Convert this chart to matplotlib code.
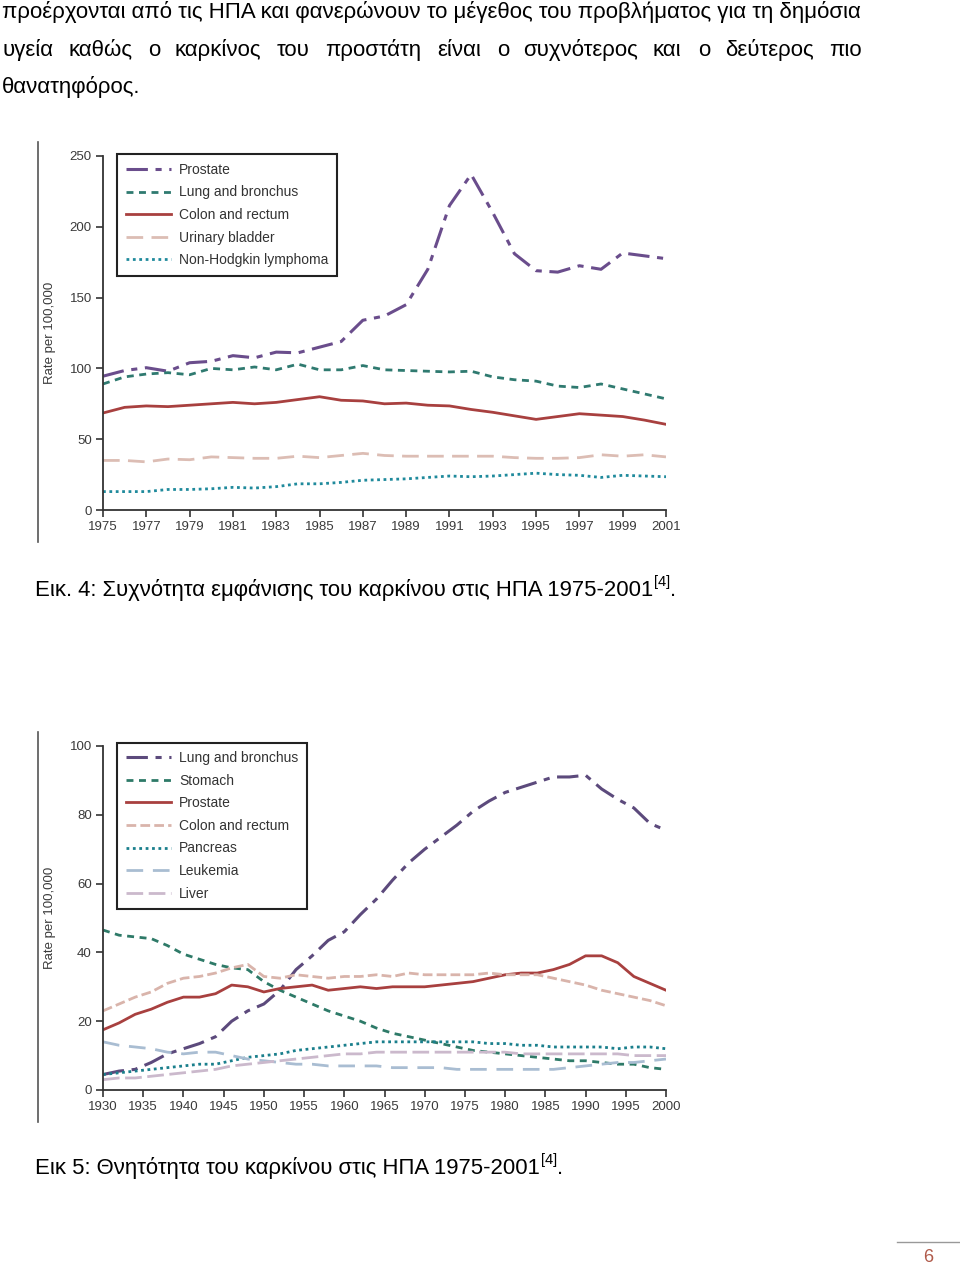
import numpy as np
import matplotlib.pyplot as plt

plt.rcParams['font.family'] = ['Liberation Sans', 'DejaVu Sans']

# --- chart 1: incidence 1975-2001
years1 = np.arange(1975, 2002)
prostate1 = [94.5, 98.5, 100.5, 98, 104, 105, 109, 107.5, 111.5, 111, 115, 119, 134, 137,
             145, 170, 215, 237, 210, 181, 169, 168, 172.5, 170, 181.5, 179.5, 177.5]
lung1 = [89, 94, 96, 97, 95.5, 100, 99, 101, 99, 103, 99, 99, 102, 99, 98.5, 98, 97.5,
         98, 94, 92, 91, 87.5, 86.5, 89, 85.5, 82, 78.5]
colon1 = [68.5, 72.5, 73.5, 73, 74, 75, 76, 75, 76, 78, 80, 77.5, 77, 75, 75.5, 74, 73.5,
          71, 69, 66.5, 64, 66, 68, 67, 66, 63.5, 60.5]
bladder1 = [35, 35, 34, 36, 35.5, 37.5, 37, 36.5, 36.5, 38, 37, 38.5, 40, 38.5, 38, 38, 38,
            38, 38, 37, 36.5, 36.5, 37, 39, 38, 39, 37.5]
nhl1 = [13, 13, 13, 14.5, 14.5, 15, 16, 15.5, 16.5, 18.5, 18.5, 19.5, 21, 21.5, 22, 23, 24,
        23.5, 24, 25, 26, 25, 24.5, 23, 24.5, 24, 23.5]

# --- chart 2: mortality 1930-2000
years2 = np.arange(1930, 2001, 2)
lung2 = [4.5, 5.5, 6, 8, 10.5, 12, 13.5, 15.5, 20, 23, 25, 29, 35, 39, 43.5, 46, 51, 55.5,
         61, 66, 70, 73.5, 77, 81, 84, 86.5, 88, 89.5, 91, 91, 91.5, 87.5, 84.5, 82, 77.5, 75.5]
stomach2 = [46.5, 45, 44.5, 44, 42, 39.5, 38, 36.5, 35.5, 35, 31.5, 29, 27, 25, 23, 21.5, 20,
            18, 16.5, 15.5, 14.5, 13.5, 12.5, 11.5, 11, 10.5, 10, 9.5, 9, 8.5, 8.5, 8, 7.5,
            7.5, 6.5, 6]
prostate2 = [17.5, 19.5, 22, 23.5, 25.5, 27, 27, 28, 30.5, 30, 28.5, 29.5, 30, 30.5, 29, 29.5,
             30, 29.5, 30, 30, 30, 30.5, 31, 31.5, 32.5, 33.5, 34, 34, 35, 36.5, 39, 39, 37,
             33, 31, 29]
colon2 = [23, 25, 27, 28.5, 31, 32.5, 33, 34, 35.5, 36.5, 33, 32.5, 33.5, 33, 32.5, 33, 33,
          33.5, 33, 34, 33.5, 33.5, 33.5, 33.5, 34, 33.5, 33.5, 33.5, 32.5, 31.5, 30.5, 29,
          28, 27, 26, 24.5]
pancreas2 = [4.5, 5, 5.5, 6, 6.5, 7, 7.5, 7.5, 8.5, 9.5, 10, 10.5, 11.5, 12, 12.5, 13, 13.5,
             14, 14, 14, 14, 14, 14, 14, 13.5, 13.5, 13, 13, 12.5, 12.5, 12.5, 12.5, 12, 12.5,
             12.5, 12]
leukemia2 = [14, 13, 12.5, 12, 11, 10.5, 11, 11, 10, 9, 8.5, 8, 7.5, 7.5, 7, 7, 7, 7, 6.5,
             6.5, 6.5, 6.5, 6, 6, 6, 6, 6, 6, 6, 6.5, 7, 7.5, 8, 8, 8.5, 9]
liver2 = [3, 3.5, 3.5, 4, 4.5, 5, 5.5, 6, 7, 7.5, 8, 8.5, 9, 9.5, 10, 10.5, 10.5, 11, 11, 11,
          11, 11, 11, 11, 11, 11, 10.5, 10.5, 10.5, 10.5, 10.5, 10.5, 10.5, 10, 10, 10]

W, H = 960, 1267
fig = plt.figure(figsize=(W / 100, H / 100), dpi=100)


def fx(x):
    return x / W


def fy(y):
    return 1 - y / H


tick_col = '#3a3a3a'


def style_axes(ax):
    for s in ['top', 'right']:
        ax.spines[s].set_visible(False)
    for s in ['left', 'bottom']:
        ax.spines[s].set_color('#333333')
        ax.spines[s].set_linewidth(1.3)
    ax.tick_params(direction='out', length=5, width=1.2, color='#333333',
                   labelsize=9.5, labelcolor=tick_col, pad=3)
    ax.set_ylabel('Rate per 100,000', fontsize=9.5, color=tick_col, labelpad=10)


def add_legend(ax, ytop):
    leg = ax.legend(loc='upper left', bbox_to_anchor=(0.013, ytop), fontsize=10,
                    handlelength=3.3, handletextpad=0.55, labelspacing=0.62, borderpad=0.6,
                    fancybox=False, framealpha=1, edgecolor='#222222', labelcolor='#333333')
    leg.get_frame().set_linewidth(1.5)


# chart 1
ax1 = fig.add_axes([fx(103), fy(510), fx(666 - 103), (510 - 156) / H])
ax1.plot(years1, prostate1, color='#6a4d8c', lw=2.2, dashes=(7, 2.5, 2, 2.5), label='Prostate')
ax1.plot(years1, lung1, color='#2f7a70', lw=2, dashes=(2.5, 2), label='Lung and bronchus')
ax1.plot(years1, colon1, color='#a8403f', lw=2, label='Colon and rectum')
ax1.plot(years1, bladder1, color='#dcbdb4', lw=2, dashes=(6, 3), label='Urinary bladder')
ax1.plot(years1, nhl1, color='#1f8a9c', lw=2, dashes=(1, 1.3), label='Non-Hodgkin lymphoma')
ax1.set_xlim(1975, 2001)
ax1.set_ylim(0, 250)
ax1.set_xticks(np.arange(1975, 2002, 2))
ax1.set_yticks(np.arange(0, 251, 50))
style_axes(ax1)
add_legend(ax1, 1.024)

# chart 2
ax2 = fig.add_axes([fx(103), fy(1090), fx(666 - 103), (1090 - 746) / H])
ax2.plot(years2, lung2, color='#5c4a7c', lw=2.2, dashes=(7, 2.5, 2, 2.5), label='Lung and bronchus')
ax2.plot(years2, stomach2, color='#2e7a68', lw=2, dashes=(2.5, 2), label='Stomach')
ax2.plot(years2, prostate2, color='#a8403f', lw=2, label='Prostate')
ax2.plot(years2, colon2, color='#d9b4ab', lw=2, dashes=(3.5, 1.5), label='Colon and rectum')
ax2.plot(years2, pancreas2, color='#1a7f8c', lw=2, dashes=(1, 1.3), label='Pancreas')
ax2.plot(years2, leukemia2, color='#a9bdd2', lw=2, dashes=(6, 3.5), label='Leukemia')
ax2.plot(years2, liver2, color='#cbb9cc', lw=2, dashes=(6, 2), label='Liver')
ax2.set_xlim(1930, 2000)
ax2.set_ylim(0, 100)
ax2.set_xticks(np.arange(1930, 2001, 5))
ax2.set_yticks(np.arange(0, 101, 20))
style_axes(ax2)
add_legend(ax2, 1.03)

# image border lines at left
fig.add_artist(plt.Line2D([fx(38), fx(38)], [fy(142), fy(542)], color='#555555', lw=1.2))
fig.add_artist(plt.Line2D([fx(38), fx(38)], [fy(732), fy(1122)], color='#555555', lw=1.2))

# body text
body = dict(fontsize=16, color='black', va='center', ha='left')
fig.text(fx(2), fy(12), 'προέρχονται από τις ΗΠΑ και φανερώνουν το μέγεθος του προβλήματος '
         'για τη δημόσια', **body)
words = ['υγεία', 'καθώς', 'ο', 'καρκίνος', 'του', 'προστάτη', 'είναι', 'ο', 'συχνότερος',
         'και', 'ο', 'δεύτερος', 'πιο']
word_x = [2, 68, 148, 175, 277, 325, 437, 497, 523, 652, 698, 725, 829]
for w, x in zip(words, word_x):
    fig.text(fx(x), fy(50), w, **body)
fig.text(fx(2), fy(87), 'θανατηφόρος.', **body)

# captions with superscript reference
renderer = fig.canvas.get_renderer()


def caption(x, y, main):
    t = fig.text(fx(x), fy(y), main, fontsize=15.9, va='center', ha='left')
    bb = t.get_window_extent(renderer)
    s = fig.text(bb.x1 / W + 0.001, fy(y - 8), '[4]', fontsize=10.5, va='center', ha='left')
    bb2 = s.get_window_extent(renderer)
    fig.text(bb2.x1 / W, fy(y), '.', fontsize=15.9, va='center', ha='left')


caption(35, 590, 'Εικ. 4: Συχνότητα εμφάνισης του καρκίνου στις ΗΠΑ 1975-2001')
caption(35, 1168, 'Εικ 5: Θνητότητα του καρκίνου στις ΗΠΑ 1975-2001')

# page number
fig.add_artist(plt.Line2D([fx(897), fx(960)], [fy(1242), fy(1242)], color='#999999', lw=1))
fig.text(fx(928), fy(1257), '6', fontsize=13, color='#b05a4a', ha='center', va='center')

fig.savefig('out.png', dpi=100)
